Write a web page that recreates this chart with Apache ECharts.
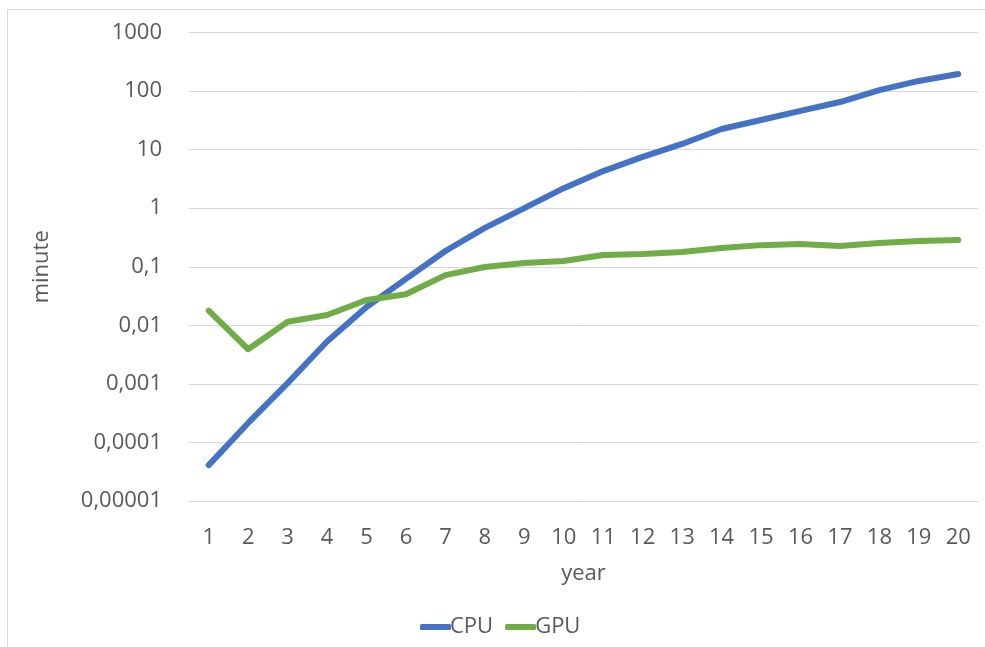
<!DOCTYPE html>
<html>
<head>
<meta charset="utf-8">
<title>CPU vs GPU</title>
<script src="https://cdn.jsdelivr.net/npm/echarts@6/dist/echarts.min.js"></script>
<style>
  html, body { margin: 0; padding: 0; background: #ffffff; }
  #chart { width: 985px; height: 647px; }
</style>
</head>
<body>
<div id="chart"></div>
<script>
// Years on the horizontal axis
const years = ['1','2','3','4','5','6','7','8','9','10','11','12','13','14','15','16','17','18','19','20'];

// Run time in minutes, CPU implementation
const cpuMinutes = [0.000041, 0.000215, 0.00103, 0.0053, 0.0205, 0.062, 0.186, 0.46, 1.0, 2.2,
                    4.3, 7.5, 12.5, 22.5, 32, 46, 65, 104, 149, 195];

// Run time in minutes, GPU implementation
const gpuMinutes = [0.0178, 0.0039, 0.0115, 0.0150, 0.027, 0.034, 0.072, 0.099, 0.116, 0.125,
                    0.159, 0.165, 0.178, 0.209, 0.234, 0.245, 0.226, 0.254, 0.275, 0.285];

const seriesNames = ['CPU', 'GPU'];
const axisMin = 0.00001;
const axisMax = 1000;

const textColor = '#595959';
const fontFamily = '"Open Sans", "Liberation Sans", sans-serif';

// Decimal comma labels for the log axis
function decimalComma(v) {
  if (v >= 1) return String(Math.round(v));
  const digits = Math.round(-Math.log10(v));
  return v.toFixed(digits).replace('.', ',');
}

const chart = echarts.init(document.getElementById('chart'), null, { renderer: 'canvas' });

chart.setOption({
  backgroundColor: '#ffffff',
  animation: false,
  textStyle: { fontFamily: fontFamily, color: textColor },
  graphic: [{
    type: 'rect',
    shape: { x: 7.5, y: 9.5, width: 1100, height: 800 },
    style: { fill: 'none', stroke: '#d9d9d9', lineWidth: 1 },
    silent: true
  }],
  grid: { left: 189, right: 7, top: 32.5, bottom: 146, containLabel: false },
  legend: {
    data: seriesNames,
    left: 415,
    top: 611,
    icon: 'roundRect',
    itemWidth: 31,
    itemHeight: 6,
    itemGap: 12,
    textStyle: { fontSize: 22, color: textColor, fontFamily: fontFamily, padding: [0, 0, 0, -6] }
  },
  xAxis: {
    type: 'category',
    data: years,
    boundaryGap: true,
    name: 'year',
    nameLocation: 'middle',
    nameGap: 62,
    nameTextStyle: { fontSize: 22, color: textColor, fontFamily: fontFamily },
    axisLine: { show: true, lineStyle: { color: '#d9d9d9', width: 1 } },
    axisTick: { show: false },
    axisLabel: { fontSize: 22, color: textColor, margin: 26, interval: 0, fontFamily: fontFamily }
  },
  yAxis: {
    type: 'log',
    logBase: 10,
    min: axisMin,
    max: axisMax,
    name: 'minute',
    nameLocation: 'middle',
    nameGap: 136,
    nameRotate: 90,
    nameTextStyle: { fontSize: 22, color: textColor, fontFamily: fontFamily },
    axisLine: { show: false },
    axisTick: { show: false },
    splitLine: { show: true, lineStyle: { color: '#d9d9d9', width: 1 } },
    axisLabel: { fontSize: 22, color: textColor, margin: 27, formatter: decimalComma, fontFamily: fontFamily }
  },
  series: [
    {
      name: seriesNames[0],
      type: 'line',
      data: cpuMinutes,
      symbol: 'none',
      smooth: false,
      color: '#4472c4',
      lineStyle: { width: 6, color: '#4472c4', cap: 'round', join: 'round' }
    },
    {
      name: seriesNames[1],
      type: 'line',
      data: gpuMinutes,
      symbol: 'none',
      smooth: false,
      color: '#70ad47',
      lineStyle: { width: 6, color: '#70ad47', cap: 'round', join: 'round' }
    }
  ]
});
</script>
</body>
</html>
